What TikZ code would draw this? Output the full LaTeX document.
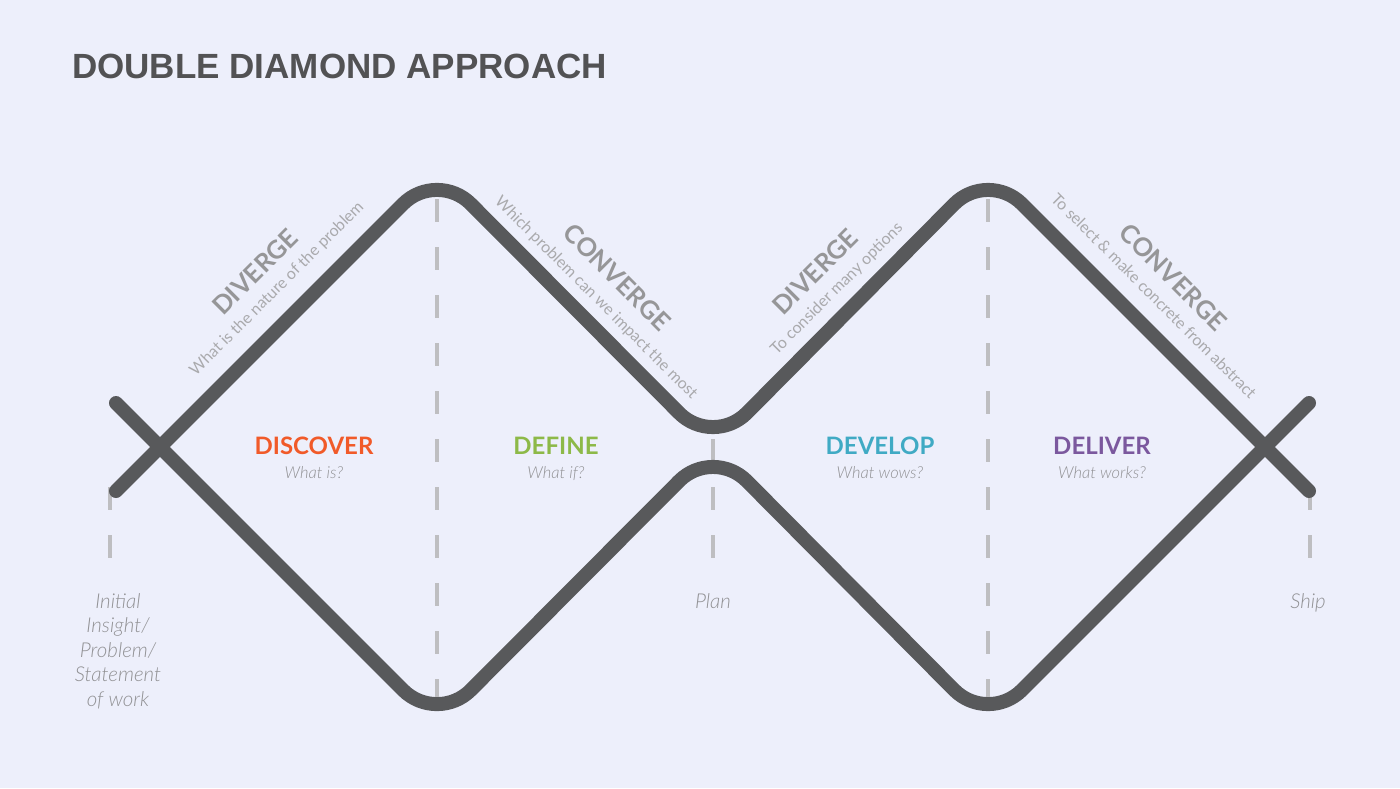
\documentclass[tikz,border=0pt]{standalone}
\usepackage{fontspec}
\setmainfont{Lato}
\newfontfamily\titlefont{Liberation Sans}
\IfFontExistsTF{Lato Light}{\newfontfamily\lightfont{Lato Light}}{\newfontfamily\lightfont{Lato}}
\definecolor{bg}{RGB}{237,239,251}
\definecolor{ddline}{RGB}{88,89,91}
\definecolor{guide}{RGB}{190,190,193}
\definecolor{titlec}{RGB}{82,82,84}
\definecolor{discoverc}{RGB}{241,90,41}
\definecolor{definec}{RGB}{141,185,72}
\definecolor{developc}{RGB}{64,170,196}
\definecolor{deliverc}{RGB}{123,88,158}
\definecolor{labelgray}{RGB}{150,150,152}
\definecolor{subgray}{RGB}{170,170,173}
\definecolor{notegray}{RGB}{145,145,148}
\begin{document}
\begin{tikzpicture}[x=1pt,y=-1pt,
  diamondline/.style={draw=ddline,line width=14pt,line cap=round,line join=round,rounded corners=48pt},
  guideline/.style={draw=guide,line width=4pt,dash pattern=on 23pt off 25pt},
  phase/.style={font=\fontsize{24}{28}\selectfont\bfseries,inner sep=0pt,anchor=base},
  phasesub/.style={font=\lightfont\fontsize{16.5}{20}\selectfont\itshape,text=notegray,inner sep=0pt,anchor=base},
  modelabel/.style={font=\fontsize{25.5}{30}\selectfont\bfseries,text=labelgray,inner sep=0pt},
  modesub/.style={font=\fontsize{16}{20}\selectfont,text=subgray,inner sep=0pt},
  milestone/.style={font=\lightfont\fontsize{20.5}{24.5}\selectfont\itshape,text=notegray,align=center,inner sep=0pt}]
\fill[bg] (0,0) rectangle (1400,788);
\useasboundingbox (0,0) rectangle (1400,788);

% title
\node[font=\titlefont\bfseries\fontsize{35}{40}\selectfont,text=titlec,anchor=base west,inner sep=0pt] (title) at (72,78) {DOUBLE DIAMOND APPROACH};

% guide lines
\draw[guideline] (437,199) -- (437,702);
\draw[guideline] (988,199) -- (988,702);
\draw[guideline] (713,439) -- (713,560);
\draw[guideline] (110,487) -- (110,560);
\draw[guideline] (1310,487) -- (1310,560);

% diamond vertices
\coordinate (aL) at (116,403);
\coordinate (bL) at (116,491);
\coordinate (v1) at (437,724);
\coordinate (p1) at (437,170);
\coordinate (m) at (713,447);
\coordinate (v2) at (988,724);
\coordinate (p2) at (988,170);
\coordinate (aR) at (1309,403);
\coordinate (bR) at (1309,491);

\draw[diamondline] (aL) -- (v1) -- (m) -- (v2) -- (aR);
\draw[diamondline] (bL) -- (p1) -- (m) -- (p2) -- (bR);

% phases
\node[phase,text=discoverc] (discover) at (314,454) {DISCOVER};
\node[phasesub] (discoversub) at (314,478) {What is?};
\node[phase,text=definec] (define) at (556,454) {DEFINE};
\node[phasesub] (definesub) at (556,478) {What if?};
\node[phase,text=developc] (develop) at (880,454) {DEVELOP};
\node[phasesub] (developsub) at (880,478) {What wows?};
\node[phase,text=deliverc] (deliver) at (1102,454) {DELIVER};
\node[phasesub] (deliversub) at (1102,478) {What works?};

% diverge / converge labels
\node[modelabel,rotate=45] (div1) at (255,272) {DIVERGE};
\node[modesub,rotate=45] (div1sub) at (277,289) {What is the nature of the problem};
\node[modelabel,rotate=-45] (con1) at (617,277) {CONVERGE};
\node[modesub,rotate=-45] (con1sub) at (596,298) {Which problem can we impact the most};
\node[modelabel,rotate=45] (div2) at (815,272) {DIVERGE};
\node[modesub,rotate=45] (div2sub) at (837,289) {To consider many options};
\node[modelabel,rotate=-45] (con2) at (1173,277) {CONVERGE};
\node[modesub,rotate=-45] (con2sub) at (1154,296) {To select \& make concrete from abstract};

% milestones
\node[milestone,anchor=north] (start) at (118,593) {Initial\\Insight/\\Problem/\\Statement\\of work};
\node[milestone,anchor=base] (plan) at (713,608) {Plan};
\node[milestone,anchor=base] (ship) at (1308,608) {Ship};
\end{tikzpicture}
\end{document}
